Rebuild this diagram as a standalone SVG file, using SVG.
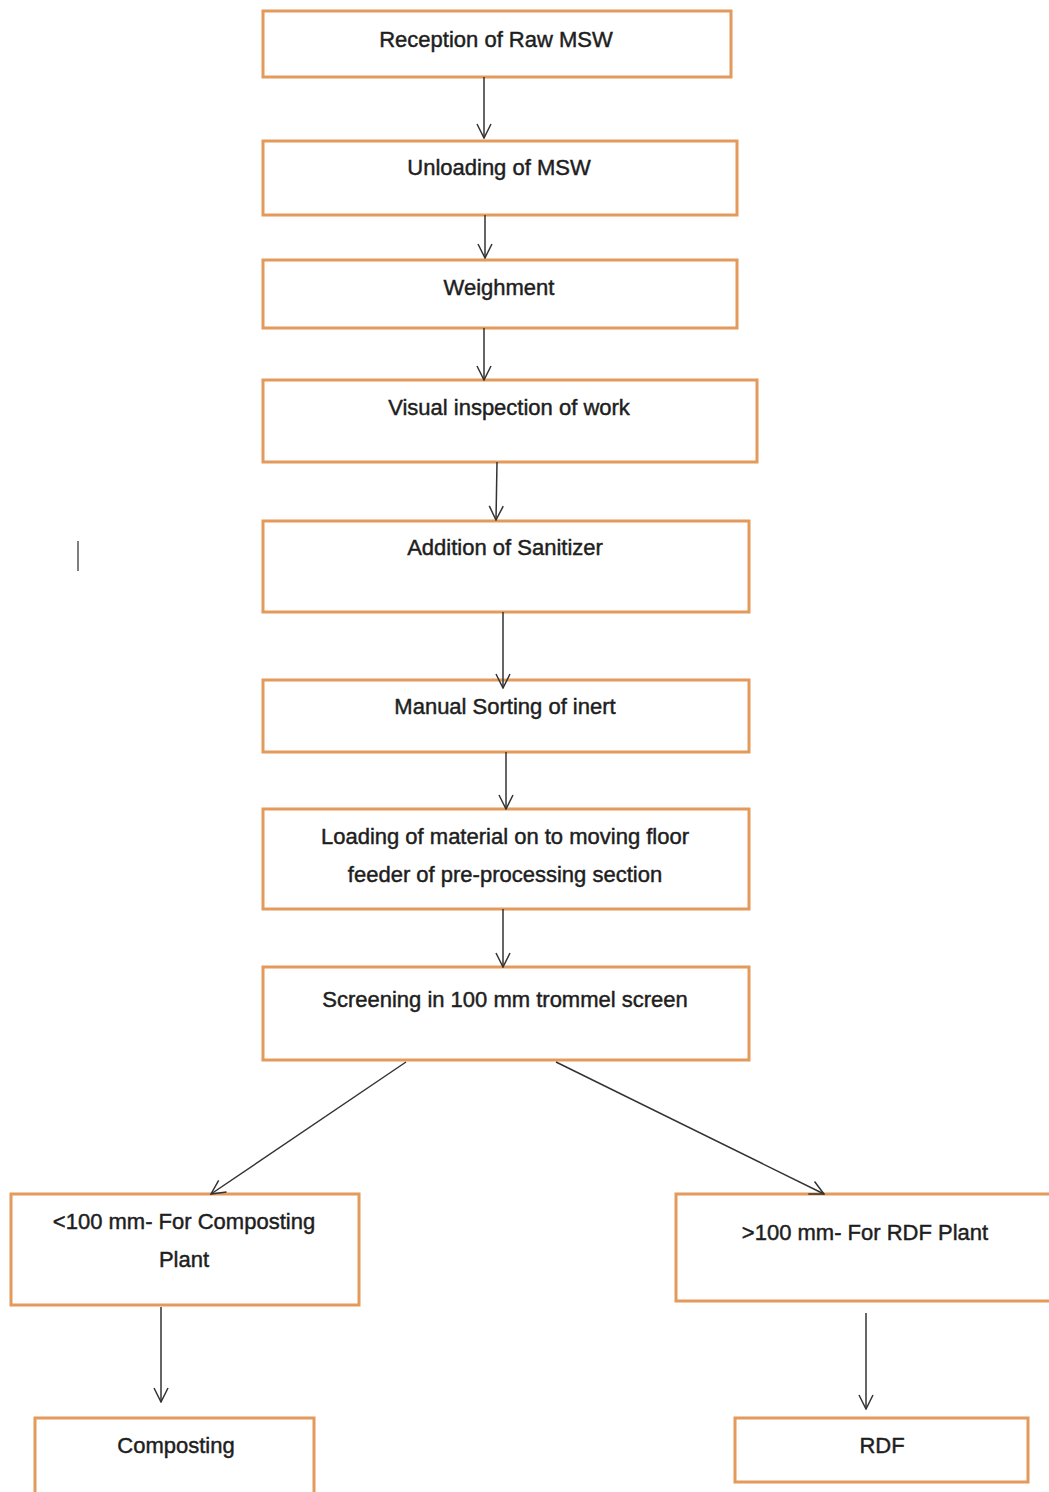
<svg xmlns="http://www.w3.org/2000/svg" width="1049" height="1492" viewBox="0 0 1049 1492">
<style>
.box{fill:#fff;stroke:#E39A5B;stroke-width:3}
.t{font-family:"Liberation Sans",Arial,sans-serif;font-size:22px;fill:#1e1e1e;stroke:#1e1e1e;stroke-width:0.45;text-anchor:middle}
.c{stroke:#333;stroke-width:1.5;fill:none}
</style>
<defs>
<marker id="ah" viewBox="0 0 16 16" refX="15" refY="8" markerWidth="16" markerHeight="16" markerUnits="userSpaceOnUse" orient="auto">
<path d="M1,1 L15,8 L1,15" fill="none" stroke="#333" stroke-width="1.5"/>
</marker>
</defs>
<rect width="1049" height="1492" fill="#fff"/>
<g id="n1"><rect class="box" x="263" y="11" width="468" height="66"/><text class="t" x="496" y="47">Reception of Raw MSW</text></g>
<g id="n2"><rect class="box" x="263" y="141" width="474" height="74"/><text class="t" x="499" y="175">Unloading of MSW</text></g>
<g id="n3"><rect class="box" x="263" y="260" width="474" height="68"/><text class="t" x="499" y="295">Weighment</text></g>
<g id="n4"><rect class="box" x="263" y="380" width="494" height="82"/><text class="t" x="509" y="415">Visual inspection of work</text></g>
<g id="n5"><rect class="box" x="263" y="521" width="486" height="91"/><text class="t" x="505" y="555">Addition of Sanitizer</text></g>
<g id="n6"><rect class="box" x="263" y="680" width="486" height="72"/><text class="t" x="505" y="714">Manual Sorting of inert</text></g>
<g id="n7"><rect class="box" x="263" y="809" width="486" height="100"/><text class="t" x="505" y="844">Loading of material on to moving floor</text><text class="t" x="505" y="882">feeder of pre-processing section</text></g>
<g id="n8"><rect class="box" x="263" y="967" width="486" height="93"/><text class="t" x="505" y="1007">Screening in 100 mm trommel screen</text></g>
<g id="n9"><rect class="box" x="11" y="1194" width="348" height="111"/><text class="t" x="184" y="1229">&lt;100 mm- For Composting</text><text class="t" x="184" y="1267">Plant</text></g>
<g id="n10"><rect class="box" x="676" y="1194" width="380" height="107"/><text class="t" x="865" y="1240">&gt;100 mm- For RDF Plant</text></g>
<g id="n11"><rect class="box" x="35" y="1418" width="279" height="80"/><text class="t" x="176" y="1453">Composting</text></g>
<g id="n12"><rect class="box" x="735" y="1418" width="293" height="64"/><text class="t" x="882" y="1453">RDF</text></g>
<g id="connectors">
<line class="c" x1="484" y1="77" x2="484" y2="138" marker-end="url(#ah)"/>
<line class="c" x1="485" y1="215" x2="485" y2="258" marker-end="url(#ah)"/>
<line class="c" x1="484" y1="328" x2="484" y2="380" marker-end="url(#ah)"/>
<line class="c" x1="497" y1="462" x2="496" y2="520" marker-end="url(#ah)"/>
<line class="c" x1="503" y1="612" x2="503" y2="688" marker-end="url(#ah)"/>
<line class="c" x1="506" y1="752" x2="506" y2="809" marker-end="url(#ah)"/>
<line class="c" x1="503" y1="909" x2="503" y2="967" marker-end="url(#ah)"/>
<line class="c" x1="406" y1="1062" x2="211" y2="1194" marker-end="url(#ah)"/>
<line class="c" x1="556" y1="1062" x2="824" y2="1194" marker-end="url(#ah)"/>
<line class="c" x1="161" y1="1307" x2="161" y2="1402" marker-end="url(#ah)"/>
<line class="c" x1="866" y1="1313" x2="866" y2="1409" marker-end="url(#ah)"/>
</g>
<line x1="78" y1="541" x2="78" y2="571" stroke="#555" stroke-width="1.5"/>
</svg>
